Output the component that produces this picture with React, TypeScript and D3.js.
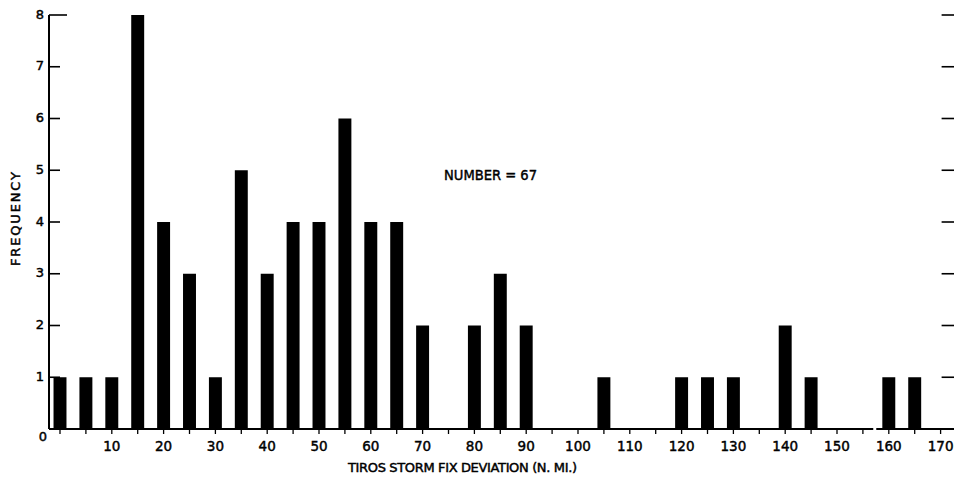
import React from "react";
import * as d3 from "d3";

// histogram bins (n. mi.) and their counts
const bins = [0, 5, 10, 15, 20, 25, 30, 35, 40, 45, 50, 55, 60, 65, 70, 80, 85, 90, 105, 120, 125, 130, 140, 145, 160, 165];
const counts = [1, 1, 1, 8, 4, 3, 1, 5, 3, 4, 4, 6, 4, 4, 2, 2, 3, 2, 1, 1, 1, 1, 2, 1, 1, 1];
const xTickLabels = [10, 20, 30, 40, 50, 60, 70, 80, 90, 100, 110, 120, 130, 140, 150, 160, 170];
const yTicks = [0, 1, 2, 3, 4, 5, 6, 7, 8];
const title = "NUMBER = 67";
const xTitle = "TIROS STORM FIX DEVIATION (N. MI.)";
const yTitle = "FREQUENCY";

const width = 954;
const height = 478;
const font = "'DejaVu Sans', 'Liberation Sans', sans-serif";

const App = () => {
    const x = d3.scaleLinear().domain([0, 170]).range([60, 940.6]);
    const y = d3.scaleLinear().domain([0, 8]).range([429, 15]);
    const axisX = 49;
    const half = 1.25; // half bar width in data units
    const breakAt = 157;
    const minorTicks = d3.range(0, 171, 5);
    // thicken the lettering a bit without widening it
    const ink = {stroke: "black", strokeWidth: 0.45};

    return (
        <svg width={width} height={height} style={{position: "absolute", left: 0, top: 0}}
             fontFamily={font}>
            <rect width={width} height={height} fill="white"/>

            {/* bars */}
            {bins.map((b, i) => (
                <rect key={b} x={x(b - half)} y={y(counts[i])}
                      width={x(b + half) - x(b - half)} height={y(0) - y(counts[i])} fill="black"/>
            ))}

            {/* left axis */}
            <line x1={axisX} x2={axisX} y1={y(8)} y2={y(0)} stroke="black" strokeWidth={2}/>
            {yTicks.filter(t => t > 0).map(t => (
                <line key={t} x1={axisX} x2={axisX + (t === 8 ? 18 : 11)} y1={y(t)} y2={y(t)}
                      stroke="black" strokeWidth={1.6}/>
            ))}
            {yTicks.map(t => (
                <text key={t} x={t === 0 ? 47 : 44} y={y(t) + (t === 0 ? 8 : 0)} textAnchor="end"
                      dominantBaseline="middle" fontSize={13} {...ink}>{t}</text>
            ))}

            {/* right ticks */}
            {yTicks.filter(t => t > 0).map(t => (
                <line key={t} x1={x(170) + 1} x2={width} y1={y(t)} y2={y(t)}
                      stroke="black" strokeWidth={1.6}/>
            ))}

            {/* baseline with break */}
            <line x1={axisX} x2={x(breakAt)} y1={y(0)} y2={y(0)} stroke="black" strokeWidth={2}/>
            <line x1={x(breakAt) + 3} x2={width} y1={y(0)} y2={y(0)} stroke="black" strokeWidth={2}/>
            {minorTicks.map(t => (
                <line key={t} x1={x(t)} x2={x(t)} y1={y(0)} y2={y(0) + 5} stroke="black" strokeWidth={1.3}/>
            ))}
            {xTickLabels.map(t => (
                <text key={t} x={x(t)} y={447} textAnchor="middle" dominantBaseline="middle"
                      fontSize={13.5} {...ink}>{t}</text>
            ))}

            {/* titles */}
            <text x={348} y={468} dominantBaseline="middle" fontSize={13} {...ink}
                  textLength={229} lengthAdjust="spacing">{xTitle}</text>
            <text transform={`translate(16, 266) rotate(-90)`} dominantBaseline="middle" fontSize={13}
                  {...ink} textLength={94} lengthAdjust="spacing">{yTitle}</text>
            <text x={444} y={176} dominantBaseline="middle" fontSize={14.5} {...ink}
                  textLength={93} lengthAdjust="spacingAndGlyphs">{title}</text>
        </svg>
    );
};

export default App;
